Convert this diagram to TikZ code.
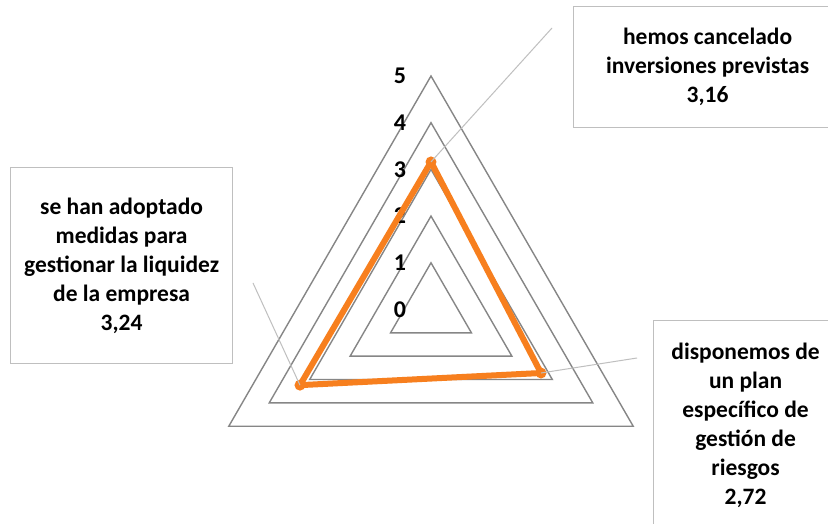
\documentclass[tikz,border=0pt]{standalone}
\usepackage{fontspec}
\setmainfont{Carlito}
\usetikzlibrary{positioning}
\definecolor{gridgray}{RGB}{134,134,134}
\definecolor{leadgray}{RGB}{191,191,191}
\definecolor{serieorange}{RGB}{247,127,30}

\begin{document}
\begin{tikzpicture}[x=1pt, y=1pt,
    gridline/.style={draw=gridgray, line width=1.4pt},
    serie/.style={draw=serieorange, line width=6pt, line join=round},
    leader/.style={draw=leadgray, line width=1pt},
    labelbox/.style={draw=leadgray, line width=1.2pt, fill=white, align=center,
        font=\fontsize{23.5}{29}\selectfont\bfseries, inner sep=0pt},
    ticklabel/.style={font=\fontsize{24}{27}\selectfont\bfseries, inner sep=0pt}]
    \clip (0, 0) rectangle (828, 524);
    \fill[white] (0, 0) rectangle (828, 524);
    \def\r{46.7}
    \begin{scope}[shift={(431, 214.5)}]
	\foreach \k in {1,...,5}
	    \draw[gridline] (90:\k*\r) -- (210:\k*\r) -- (330:\k*\r) -- cycle;
	\foreach \k in {0,...,5}
	    \node[ticklabel] (tick\k) at (-31, \k*\r) {\k};
	\coordinate (pInv) at (90:3.16*\r);
	\coordinate (pLiq) at (210:3.24*\r);
	\coordinate (pRies) at (330:2.72*\r);
	\draw[serie] (pInv) -- (pRies) -- (pLiq) -- cycle;
	\foreach \p in {pInv, pLiq, pRies}
	    \fill[serieorange] (\p) circle (5.5);
    \end{scope}
    \coordinate (endInv) at (552, 496);
    \coordinate (endLiq) at (253, 241);
    \coordinate (endRies) at (637, 166);
    \draw[leader] (pInv) -- (endInv);
    \draw[leader] (pLiq) -- (endLiq);
    \draw[leader] (pRies) -- (endRies);
    \node[labelbox, minimum width=268, minimum height=121, anchor=north west]
	(boxInv) at (573, 518) {hemos cancelado\\inversiones previstas\\3,16};
    \node[labelbox, minimum width=222, minimum height=196, anchor=north west]
	(boxLiq) at (10, 357) {se han adoptado\\medidas para\\gestionar la liquidez\\de la empresa\\3,24};
    \node[labelbox, minimum width=184, minimum height=210, anchor=north west]
	(boxRies) at (653, 204) {disponemos de\\un plan\\específico de\\gestión de\\riesgos\\2,72};
\end{tikzpicture}
\end{document}
